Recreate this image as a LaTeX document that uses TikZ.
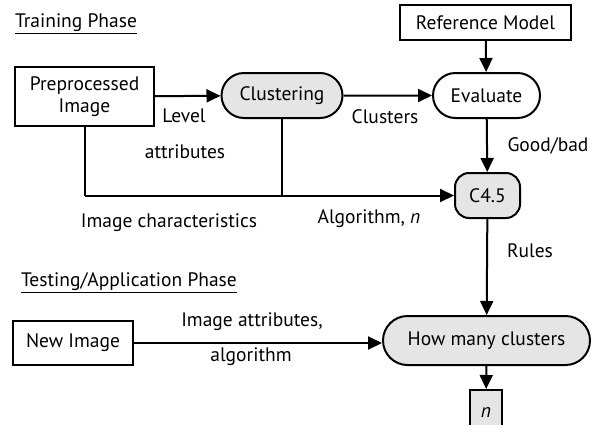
\documentclass[tikz,border=0pt]{standalone}
\usepackage{fontspec}
\setmainfont{PT Sans}
\usetikzlibrary{arrows.meta}
\usetikzlibrary{shapes.misc}

\tikzset{
	box/.style={draw, line width=2pt, fill=white, inner sep=0pt, align=center},
	roundbox/.style={box, rounded rectangle, fill=black!10!white},
	flow/.style={line width=2pt, -{Triangle[length=14pt,width=13pt]}},
	lbl/.style={inner sep=0pt}
}

\begin{document}
\begin{tikzpicture}[x=1pt, y=-1pt, font=\fontsize{19.5}{22}\selectfont]

	%fix the page to the reference size
	\useasboundingbox (0,0) rectangle (607,424);

	%headings
	\node[lbl] (trainHead) at (76,24) {\underline{Training Phase}};
	\node[lbl] (testHead) at (129,283) {\underline{Testing/Application Phase}};

	%training phase blocks
	\node[box, minimum width=139pt, minimum height=59pt] (preImg) at (84.5,96.5) {Preprocessed\\Image};
	\node[roundbox, minimum width=121pt, minimum height=45pt] (clust) at (282,95.5) {Clustering};
	\node[roundbox, fill=white, minimum width=107pt, minimum height=45pt] (eval) at (486.5,95.5) {Evaluate};
	\node[box, minimum width=171pt, minimum height=35pt] (refModel) at (485.5,22.5) {Reference Model};
	\node[box, fill=black!10!white, rounded corners=14pt, minimum width=65pt, minimum height=45pt] (cFour) at (487.5,195.5) {C4.5};

	%testing phase blocks
	\node[roundbox, minimum width=207pt, minimum height=49pt] (howMany) at (486.5,340.5) {How many clusters};
	\node[box, minimum width=120pt, minimum height=44pt] (newImg) at (73,343) {New Image};
	\node[box, fill=black!10!white, minimum width=32pt, minimum height=44pt] (nOut) at (486,412) {\itshape n};

	%junction points of the lower feed into C4.5
	\coordinate (preDown) at (preImg.south |- cFour.west);
	\coordinate (clustDown) at (clust.south |- cFour.west);

	%connectors
	\draw[flow] (preImg) -- (clust);
	\draw[flow] (clust) -- (eval);
	\draw[flow] (refModel) -- (eval);
	\draw[flow] (eval) -- (cFour);
	\draw[line width=2pt] (preImg.south) -- (preDown);
	\draw[line width=2pt] (clust.south) -- (clustDown);
	\draw[flow] (preDown) -- (cFour.west);
	\draw[flow] (cFour) -- (howMany);
	\draw[flow] (newImg.east) -- (newImg.east -| howMany.west);
	\draw[flow] (howMany) -- (nOut);

	%connector labels
	\node[lbl] (lvlA) at (184,116) {Level};
	\node[lbl] (lvlB) at (185,152) {attributes};
	\node[lbl] (clustLbl) at (385,117) {Clusters};
	\node[lbl] (goodLbl) at (548,146) {Good/bad};
	\node[lbl] (charLbl) at (169,223) {Image characteristics};
	\node[lbl] (algLbl) at (369,219) {Algorithm, \textit{n}};
	\node[lbl] (rulesLbl) at (530,251) {Rules};
	\node[lbl] (attrA) at (252,322) {Image attributes,};
	\node[lbl] (attrB) at (251,357) {algorithm};

\end{tikzpicture}
\end{document}
